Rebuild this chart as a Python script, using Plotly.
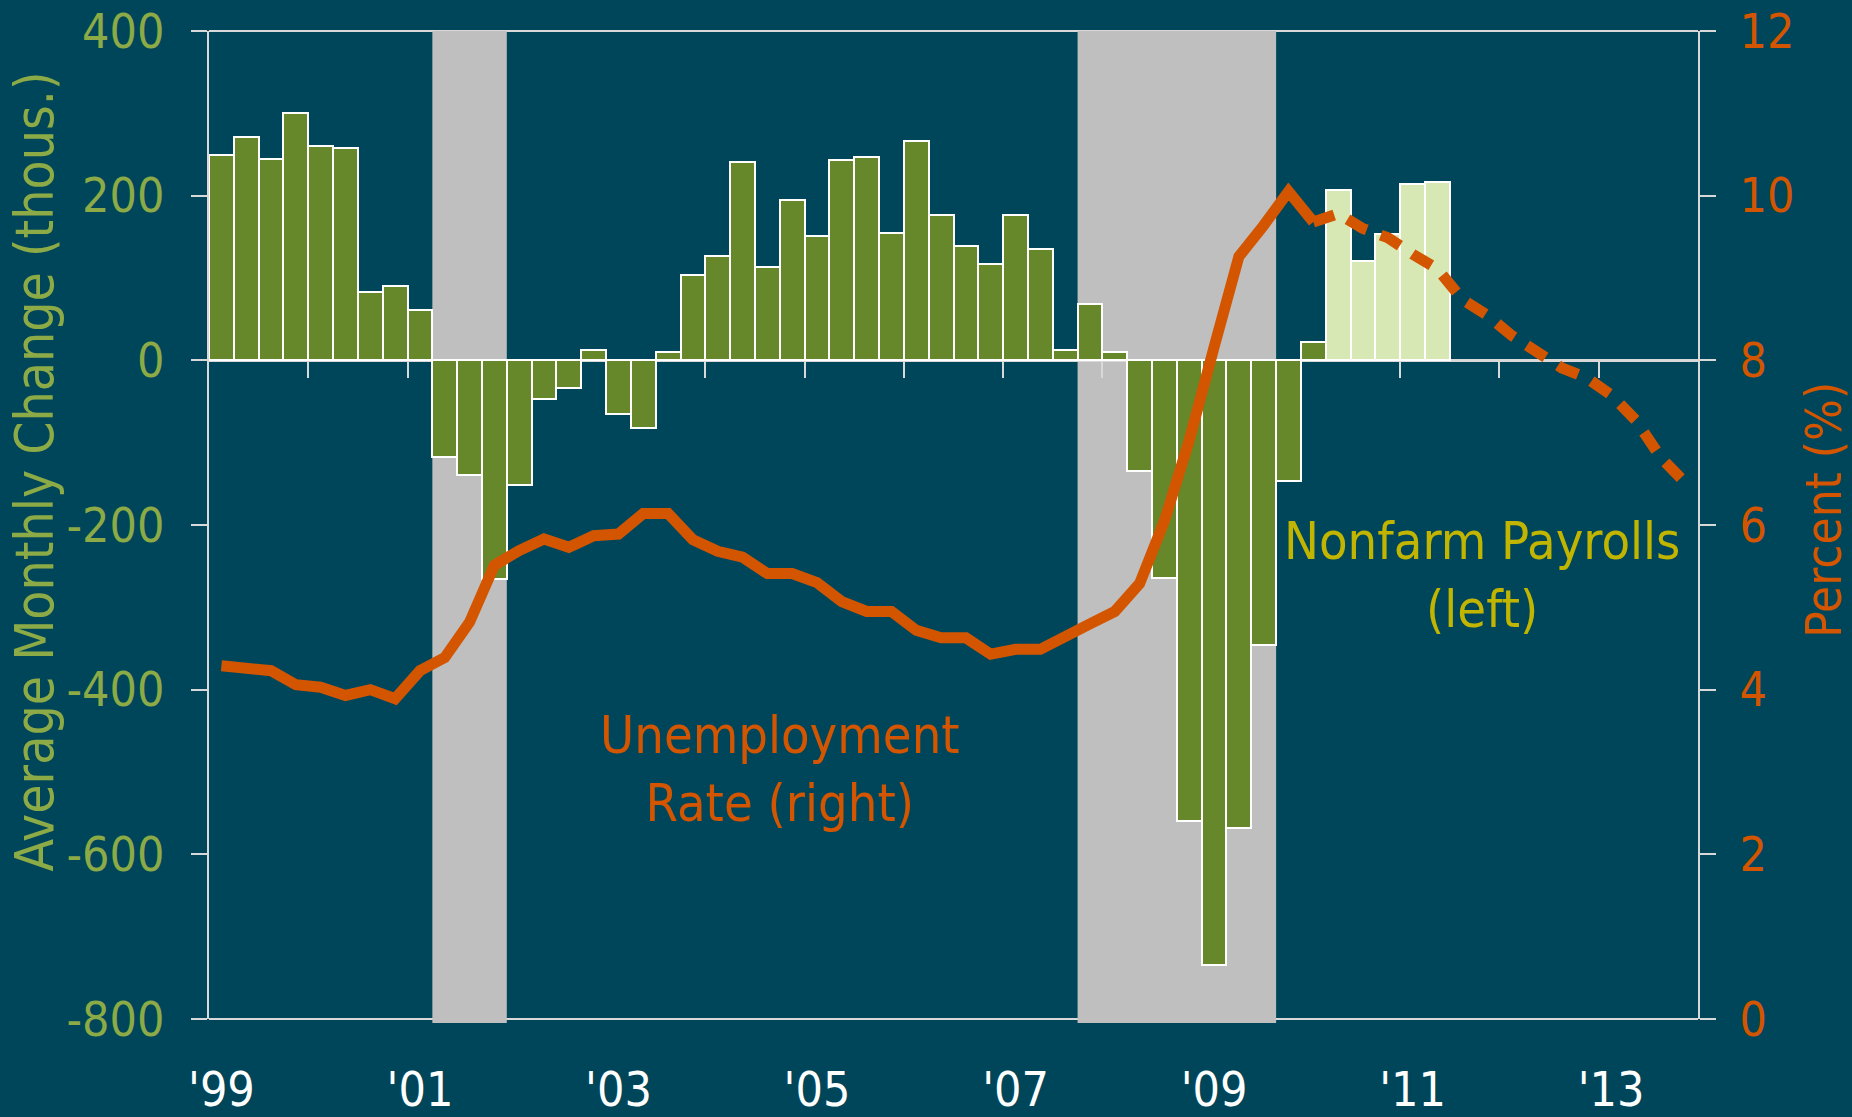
import pandas as pd
import plotly.graph_objects as go

# ---------------- data ----------------
first_quarter = "1999Q1"
last_quarter = "2013Q4"

# Nonfarm payrolls, average monthly change (thous.), quarterly from 1999Q1
payrolls_hist = [250, 271, 245, 300, 260, 258, 83, 90, 61,
                 -118, -139, -266, -152, -47, -33, 12, -65, -82, 10,
                 104, 127, 241, 113, 195, 151, 243, 247, 155, 266,
                 177, 139, 117, 176, 135, 12, 68, 10,
                 -135, -264, -559, -734, -568, -346, -146, 22]
payrolls_recent = [207, 121, 153, 214, 217]

# Unemployment rate (%), quarterly from 1999Q1 to 2010Q1
unemp_actual = [4.29, 4.26, 4.23, 4.06, 4.03, 3.93, 4.00, 3.89, 4.23, 4.39,
                4.82, 5.51, 5.69, 5.83, 5.73, 5.87, 5.89, 6.14, 6.14, 5.82,
                5.68, 5.61, 5.41, 5.41, 5.30, 5.07, 4.95, 4.95, 4.72, 4.63,
                4.63, 4.43, 4.49, 4.49, 4.63, 4.80, 4.95, 5.29, 6.05, 7.03,
                8.16, 9.26, 9.64, 10.05, 9.68]
# Projection, 2010Q2 to 2013Q4
unemp_projection = [9.78, 9.60, 9.49, 9.29, 9.11, 8.74, 8.55, 8.30, 8.10,
                    7.91, 7.79, 7.58, 7.27, 6.82, 6.51]

recessions = [("2001Q2", "2001Q4"), ("2007Q4", "2009Q3")]
label_years = [1999, 2001, 2003, 2005, 2007, 2009, 2011, 2013]
tick_years = list(range(2000, 2014))

left_ticks = [-800, -600, -400, -200, 0, 200, 400]
left_tick_text = ["-800", "-600", "-400", "-200", "0", "200", "400"]
right_ticks = [0, 2, 4, 6, 8, 10, 12]

# ---------------- helpers ----------------
def q_start(p):
    p = pd.Period(p, freq="Q")
    return p.year + (p.quarter - 1) / 4


def q_center(p):
    return q_start(p) + 0.125


def q_end(p):
    return q_start(p) + 0.25


bar_periods = pd.period_range(first_quarter, periods=len(payrolls_hist) + len(payrolls_recent), freq="Q")
bar_x = [q_center(p) for p in bar_periods]
bar_vals = payrolls_hist + payrolls_recent

u_periods = pd.period_range(first_quarter, periods=len(unemp_actual) + len(unemp_projection), freq="Q")
u_x = [q_center(p) for p in u_periods]
u_vals = unemp_actual + unemp_projection
n_act = len(unemp_actual)

# ---------------- style ----------------
BG = "#00465A"
GREEN = "#66882A"
LIGHT = "#D8E8B4"
GREY = "#BFBFBF"
ORANGE = "#D45500"
LGREEN = "#8CAA46"
YELLOW = "#C2B500"
AXIS = "#D9D9D9"
FONT = "DejaVu Sans Condensed, DejaVu Sans, sans-serif"

x_range = [q_start(first_quarter), q_end(last_quarter)]
y_range = [left_ticks[0], left_ticks[-1]]
y2_range = [right_ticks[0], right_ticks[-1]]

fig = go.Figure()

fig.add_trace(go.Bar(
    x=bar_x, y=bar_vals, width=0.25,
    marker=dict(color=[GREEN] * len(payrolls_hist) + [LIGHT] * len(payrolls_recent),
                line=dict(color="white", width=2)),
    yaxis="y", xaxis="x", showlegend=False, hoverinfo="skip"))

fig.add_trace(go.Scatter(
    x=u_x[:n_act], y=u_vals[:n_act], mode="lines",
    line=dict(color=ORANGE, width=11),
    yaxis="y2", xaxis="x", showlegend=False))

fig.add_trace(go.Scatter(
    x=u_x[n_act - 1:], y=u_vals[n_act - 1:], mode="lines",
    line=dict(color=ORANGE, width=11, dash="22px,15px"),
    yaxis="y2", xaxis="x", showlegend=False))

shapes = []
# frame top / bottom (drawn first so the shading covers them)
for yv in (0, 1):
    shapes.append(dict(type="line", xref="paper", yref="paper", x0=0, x1=1, y0=yv, y1=yv,
                       line=dict(color=AXIS, width=2), layer="below"))
for s, e in recessions:
    shapes.append(dict(type="rect", xref="x", yref="paper", x0=q_start(s), x1=q_end(e),
                       y0=-0.004, y1=1, fillcolor=GREY, line=dict(width=0), layer="below"))

zero_pos = (0 - y_range[0]) / (y_range[1] - y_range[0])

annotations = [
    dict(text="Average Monthly Change (thous.)", xref="paper", yref="paper",
         x=-0.117, y=0.554, textangle=-90, showarrow=False,
         font=dict(family=FONT, size=53, color=LGREEN), xanchor="center", yanchor="middle"),
    dict(text="Percent (%)", xref="paper", yref="paper",
         x=1.085, y=0.515, textangle=-90, showarrow=False,
         font=dict(family=FONT, size=49, color=ORANGE), xanchor="center", yanchor="middle"),
    dict(text="Unemployment<br>Rate (right)", xref="x", yref="y",
         x=2004.75, y=-496, showarrow=False, align="center",
         font=dict(family=FONT, size=52, color=ORANGE)),
    dict(text="Nonfarm Payrolls<br>(left)", xref="x", yref="y",
         x=2011.82, y=-261, showarrow=False, align="center",
         font=dict(family=FONT, size=52, color=YELLOW)),
]

fig.update_layout(
    width=1852, height=1117,
    margin=dict(l=209, r=154, t=31, b=98),
    paper_bgcolor=BG, plot_bgcolor=BG,
    bargap=0, showlegend=False,
    font=dict(family=FONT),
    shapes=shapes, annotations=annotations,
    xaxis=dict(range=x_range, showgrid=False, zeroline=False, showline=False,
               tickmode="array", tickvals=[y + 0.125 for y in label_years],
               ticktext=["'" + str(y)[-2:] for y in label_years],
               ticks="", tickfont=dict(family=FONT, size=48, color="white"),
               ticklabelstandoff=38, automargin=False),
    xaxis2=dict(range=x_range, overlaying="x", anchor="free", position=zero_pos,
                side="bottom", showgrid=False, zeroline=False,
                showline=True, linecolor=AXIS, linewidth=3,
                tickmode="array", tickvals=tick_years, showticklabels=False,
                ticks="outside", ticklen=16, tickwidth=2, tickcolor=AXIS,
                layer="below traces", automargin=False),
    yaxis=dict(range=y_range, tickmode="array", tickvals=left_ticks, ticktext=left_tick_text,
               showgrid=False, zeroline=False, showline=True, linecolor=AXIS, linewidth=2,
               ticks="outside", ticklen=16, tickwidth=2, tickcolor=AXIS,
               tickfont=dict(family=FONT, size=48, color=LGREEN),
               ticklabelstandoff=17, layer="below traces", automargin=False),
    yaxis2=dict(range=y2_range, overlaying="y", side="right", tickmode="array", tickvals=right_ticks,
                showgrid=False, zeroline=False, showline=True, linecolor=AXIS, linewidth=2,
                ticks="outside", ticklen=16, tickwidth=2, tickcolor=AXIS,
                tickfont=dict(family=FONT, size=48, color=ORANGE),
                ticklabelstandoff=14, layer="below traces", automargin=False),
)

# invisible trace to activate xaxis2 (the zero-line axis with the year ticks)
fig.add_trace(go.Scatter(x=[x_range[0]], y=[0], xaxis="x2", yaxis="y", mode="markers",
                         marker=dict(opacity=0), showlegend=False, hoverinfo="skip"))

fig.write_html(
    "out.html",
    config={"displayModeBar": False},
    post_script="document.body.style.margin='0px';document.body.style.background='" + BG + "';",
)
